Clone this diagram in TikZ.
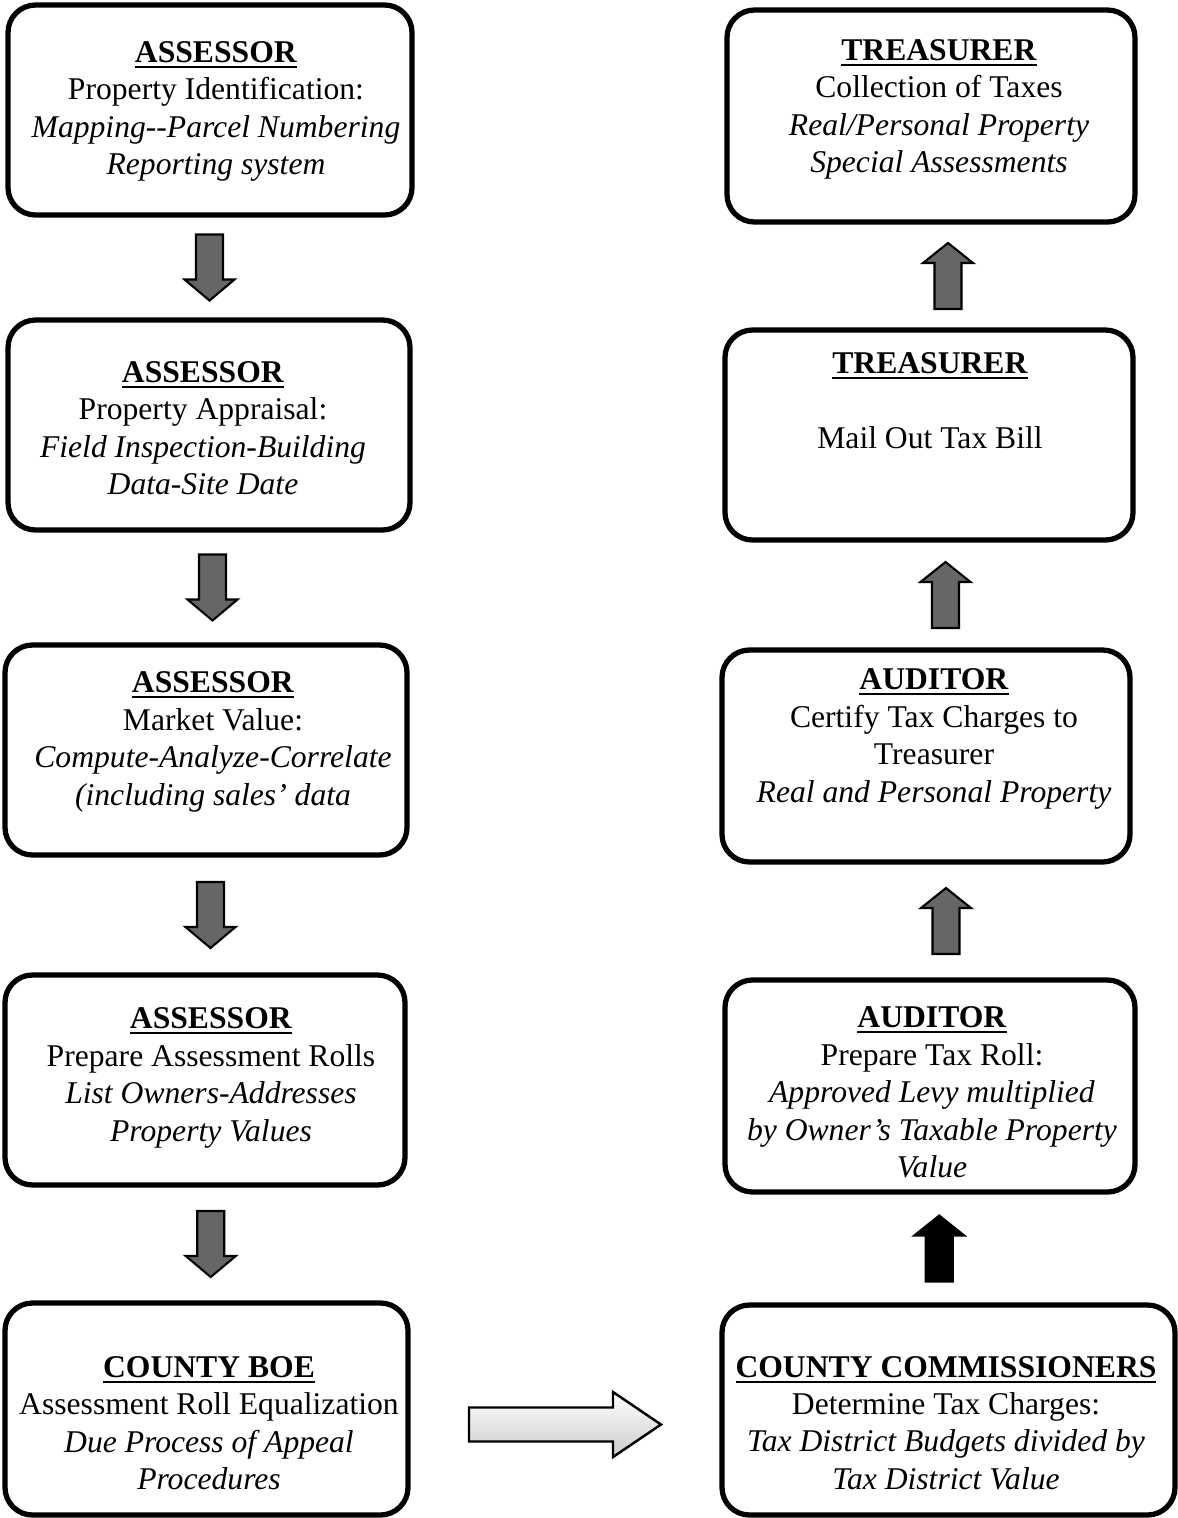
\documentclass[tikz,border=0pt]{standalone}
\usepackage{fontspec}
\setmainfont{Liberation Serif}
\usetikzlibrary{calc}
\newcommand{\ttl}[1]{\setbox0\hbox{\textbf{#1}}\rlap{\rule[-3.1pt]{\wd0}{1.1pt}}\box0}
\tikzset{
  box/.style={draw,line width=3pt,rounded corners=0.55cm,inner sep=0pt},
  txt/.style={align=center,inner sep=0pt,font=\fontsize{18}{21.3}\selectfont},
  arrowfill/.style={draw,line width=1.2pt,fill=black!60,line join=miter},
  downarr/.pic={\draw[arrowfill] (-0.27,0.66) -- (0.27,0.66) -- (0.27,-0.24)
    -- (0.5,-0.24) -- (0,-0.66) -- (-0.5,-0.24) -- (-0.27,-0.24) -- cycle;},
  uparr/.pic={\draw[arrowfill] (-0.27,-0.66) -- (0.27,-0.66) -- (0.27,0.26)
    -- (0.5,0.26) -- (0,0.66) -- (-0.5,0.26) -- (-0.27,0.26) -- cycle;},
  rightarr/.pic={\draw[line width=1.4pt,top color=white,bottom color=black!20]
    (-1.92,0.34) -- (0.96,0.34) -- (0.96,0.65) -- (1.92,0) -- (0.96,-0.65)
    -- (0.96,-0.34) -- (-1.92,-0.34) -- cycle;},
}
\begin{document}
\begin{tikzpicture}
\useasboundingbox (0,0) rectangle (23.54,-30.36);
% 左列
\node[box,minimum width=8.08cm,minimum height=4.20cm] (l1) at (4.20,-2.20) {};
\node[box,minimum width=8.04cm,minimum height=4.20cm] (l2) at (4.18,-8.50) {};
\node[box,minimum width=8.04cm,minimum height=4.20cm] (l3) at (4.12,-15.00) {};
\node[box,minimum width=8.00cm,minimum height=4.20cm] (l4) at (4.10,-21.60) {};
\node[box,minimum width=8.06cm,minimum height=4.24cm] (l5) at (4.13,-28.18) {};
\node[txt] (l1t) at (4.32,-2.23) {\ttl{ASSESSOR}\\Property Identification:\\
  \textit{Mapping-{}-Parcel Numbering}\\\textit{Reporting system}};
\node[txt] (l2t) at (4.06,-8.56) {\ttl{ASSESSOR}\\Property Appraisal:\\
  \textit{Field Inspection-Building}\\\textit{Data-Site Date}};
\node[txt] (l3t) at (4.26,-14.84) {\ttl{ASSESSOR}\\Market Value:\\
  \textit{Compute-Analyze-Correlate}\\\textit{(including sales' data}};
\node[txt] (l4t) at (4.22,-21.56) {\ttl{ASSESSOR}\\Prepare Assessment Rolls\\
  \textit{List Owners-Addresses}\\\textit{Property Values}};
\node[txt] (l5t) at (4.18,-28.46) {\ttl{COUNTY BOE}\\Assessment Roll Equalization\\
  \textit{Due Process of Appeal}\\\textit{Procedures}};
% 右列
\node[box,minimum width=8.16cm,minimum height=4.24cm] (r1) at (18.62,-2.32) {};
\node[box,minimum width=8.16cm,minimum height=4.20cm] (r2) at (18.58,-8.70) {};
\node[box,minimum width=8.16cm,minimum height=4.24cm] (r3) at (18.52,-15.12) {};
\node[box,minimum width=8.20cm,minimum height=4.24cm] (r4) at (18.60,-21.72) {};
\node[box,minimum width=9.06cm,minimum height=4.20cm] (r5) at (18.97,-28.20) {};
\node[txt] (r1t) at (18.78,-2.19) {\ttl{TREASURER}\\Collection of Taxes\\
  \textit{Real/Personal Property}\\\textit{Special Assessments}};
\node[txt] (r2t) at (18.60,-8.01) {\ttl{TREASURER}\\[21.3pt]Mail Out Tax Bill};
\node[txt] (r3t) at (18.68,-14.78) {\ttl{AUDITOR}\\Certify Tax Charges to\\
  Treasurer\\\textit{Real and Personal Property}};
\node[txt] (r4t) at (18.64,-21.85) {\ttl{AUDITOR}\\Prepare Tax Roll:\\
  \textit{Approved Levy multiplied}\\\textit{by Owner's Taxable Property}\\\textit{Value}};
\node[txt] (r5t) at (18.92,-28.46) {\ttl{COUNTY COMMISSIONERS}\\Determine Tax Charges:\\
  \textit{Tax District Budgets divided by}\\\textit{Tax District Value}};
% 箭头
\pic at ($(l1.south)!0.5!(l2.north)$) {downarr};
\pic[xshift=0.1cm] at ($(l2.south)!0.5!(l3.north)$) {downarr};
\pic[xshift=0.1cm] at ($(l3.south)!0.5!(l4.north)$) {downarr};
\pic[xshift=0.1cm] at ($(l4.south)!0.5!(l5.north)$) {downarr};
\pic[yshift=-0.3cm] at ($(l5.east)!0.5!(r5.west)$) {rightarr};
\pic[arrowfill/.append style={fill=black}] at ($(r5.north)!0.5!(r4.south)$) {uparr};
\pic[xshift=0.36cm] at ($(r4.north)!0.5!(r3.south)$) {uparr};
\pic[xshift=0.36cm] at ($(r3.north)!0.5!(r2.south)$) {uparr};
\pic[xshift=0.36cm] at ($(r2.north)!0.5!(r1.south)$) {uparr};
\end{tikzpicture}
\end{document}
